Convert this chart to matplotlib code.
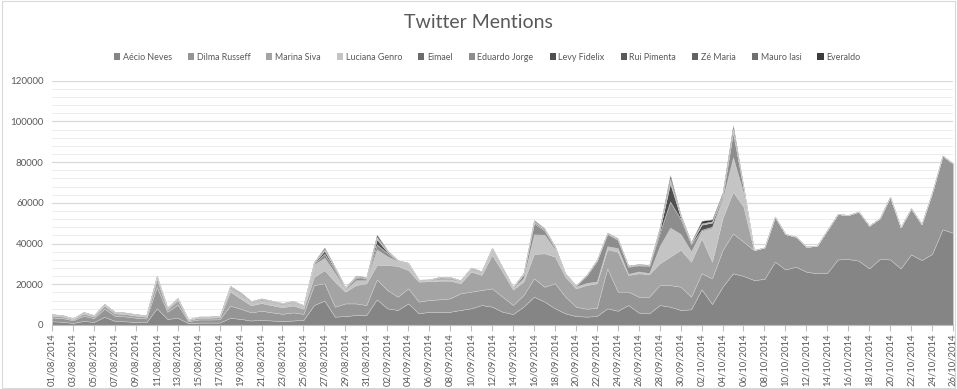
import matplotlib
matplotlib.use("Agg")
import matplotlib.pyplot as plt
import numpy as np
import pandas as pd
from matplotlib.patches import Rectangle

plt.rcParams['font.family'] = ['Lato', 'DejaVu Sans']

dates = pd.date_range("2014-08-01", "2014-10-26", freq="D")
date_labels = [d.strftime("%d/%m/%Y") for d in dates]

series_names = ["Aécio Neves", "Dilma Russeff", "Marina Siva", "Luciana Genro", "Eimael",
                "Eduardo Jorge", "Levy Fidelix", "Rui Pimenta", "Zé Maria", "Mauro Iasi", "Everaldo"]

aecio = [1800, 1600, 1000, 2000, 1500, 4000, 2000, 1800, 1500, 1300,
         8200, 3000, 3500, 900, 1200, 1200, 1200, 3500, 3000, 2200,
         2500, 2200, 2000, 2200, 2500, 9800, 12000, 4100, 4400, 4900,
         4900, 12600, 8200, 7400, 10600, 5700, 6500, 6500, 6500, 7400,
         8200, 9800, 9000, 6500, 5400, 9000, 13900, 11500, 8200, 5700,
         4400, 4100, 4400, 8200, 7000, 9800, 6100, 5700, 9800, 9000,
         7400, 7700, 17500, 10300, 18800, 25400, 24100, 22100, 22600, 31100,
         27300, 28600, 26200, 25400, 25700, 32200, 32400, 31600, 27800, 32400,
         32200, 27800, 34700, 31900, 34900, 47000, 45300]

dilma = [1900, 1800, 1300, 2500, 1900, 4000, 2500, 2400, 2100, 1900,
         10500, 3500, 6500, 1000, 1500, 1500, 1600, 6000, 5000, 4000,
         4500, 4000, 3500, 4000, 3000, 9800, 8500, 4900, 6200, 5700,
         4900, 9800, 9000, 6500, 7400, 5800, 5800, 6100, 6600, 8200,
         8200, 7400, 9000, 7400, 4400, 5700, 9000, 7300, 12300, 8200,
         4600, 3900, 4000, 19600, 9400, 6600, 7800, 8200, 9800, 10600,
         11400, 6200, 7900, 12600, 18000, 19600, 16800, 14700, 15500, 22100,
         17400, 14800, 12300, 13400, 21000, 22300, 21600, 24100, 21000, 20000,
         30800, 20200, 22600, 17700, 30100, 36200, 34100]

marina = [900, 800, 500, 1100, 800, 1500, 1200, 1200, 1000, 900,
          4000, 1300, 2300, 500, 900, 900, 1000, 7000, 5000, 3500,
          3800, 3500, 3200, 3400, 2500, 4100, 6500, 12300, 5800, 9000,
          10700, 7100, 12300, 15100, 9000, 9800, 9200, 9200, 8700, 4900,
          9800, 7400, 16400, 12300, 7600, 6600, 12000, 16400, 13100, 9800,
          9000, 11600, 12100, 9400, 19600, 8200, 11500, 11100, 10700, 14000,
          18200, 17200, 17200, 8200, 15600, 20500, 17200, 0, 0, 0,
          0, 0, 0, 0, 0, 0, 0, 0, 0, 0,
          0, 0, 0, 0, 0, 0, 0]

luciana = [250, 250, 150, 350, 250, 400, 300, 300, 300, 250,
           800, 400, 500, 150, 200, 200, 200, 1500, 1500, 1000,
           1200, 1300, 1200, 1300, 1000, 5800, 5700, 4100, 800, 2200,
           1300, 7300, 4100, 2100, 2900, 400, 400, 600, 600, 800,
           1100, 1000, 2400, 800, 600, 1600, 9300, 9000, 3400, 700,
           800, 900, 800, 1300, 1600, 400, 800, 400, 8200, 13900,
           7500, 4900, 3400, 16400, 9000, 16400, 6600, 0, 0, 0,
           0, 0, 0, 0, 0, 0, 0, 0, 0, 0,
           0, 0, 0, 0, 0, 0, 0]

eimael = [50, 50, 30, 50, 50, 50, 50, 50, 50, 50,
          80, 50, 50, 20, 40, 40, 40, 200, 300, 150,
          150, 150, 150, 150, 150, 200, 300, 200, 100, 200,
          200, 300, 200, 100, 100, 50, 50, 100, 100, 100,
          100, 50, 100, 100, 50, 100, 300, 200, 100, 50,
          50, 100, 100, 200, 200, 100, 100, 100, 200, 300,
          200, 200, 200, 200, 200, 500, 100, 0, 0, 0,
          0, 0, 0, 0, 0, 0, 0, 0, 0, 0,
          0, 0, 0, 0, 0, 0, 0]

eduardo = [150, 150, 100, 150, 150, 150, 150, 150, 150, 150,
           250, 150, 150, 80, 120, 120, 120, 600, 400, 400,
           500, 400, 400, 400, 300, 600, 2000, 1500, 600, 1200,
           800, 2500, 1500, 300, 300, 300, 200, 600, 600, 300,
           500, 400, 600, 600, 400, 1800, 5400, 2000, 1000, 500,
           500, 3500, 10000, 6000, 4000, 3500, 3000, 3400, 6500, 12800,
           7300, 3500, 600, 600, 1400, 12000, 2500, 0, 0, 0,
           0, 0, 0, 0, 0, 0, 0, 0, 0, 0,
           0, 0, 0, 0, 0, 0, 0]

levy = [80, 80, 50, 80, 80, 80, 80, 80, 80, 80,
        100, 80, 80, 40, 70, 70, 70, 200, 400, 200,
        200, 200, 150, 200, 150, 300, 1500, 800, 300, 500,
        300, 2500, 700, 150, 100, 100, 100, 300, 200, 100,
        150, 150, 200, 150, 100, 300, 600, 500, 200, 100,
        100, 200, 200, 300, 300, 300, 300, 300, 1500, 9000,
        1200, 500, 2500, 2000, 800, 1200, 200, 0, 0, 0,
        0, 0, 0, 0, 0, 0, 0, 0, 0, 0,
        0, 0, 0, 0, 0, 0, 0]

rui = [30, 30, 20, 30, 30, 30, 30, 30, 30, 30,
       40, 30, 30, 20, 30, 30, 30, 50, 60, 50,
       50, 50, 50, 50, 50, 100, 300, 150, 50, 100,
       100, 400, 150, 50, 50, 30, 30, 50, 50, 50,
       50, 50, 100, 50, 30, 100, 200, 100, 50, 30,
       30, 50, 100, 100, 100, 50, 50, 50, 200, 800,
       200, 100, 200, 200, 150, 300, 100, 0, 0, 0,
       0, 0, 0, 0, 0, 0, 0, 0, 0, 0,
       0, 0, 0, 0, 0, 0, 0]

ze = [30, 30, 20, 40, 30, 40, 30, 30, 30, 30,
      50, 30, 40, 20, 30, 30, 30, 50, 50, 50,
      60, 50, 50, 50, 50, 100, 280, 150, 60, 100,
      100, 380, 150, 50, 50, 30, 30, 50, 50, 50,
      50, 50, 100, 50, 30, 100, 200, 100, 50, 30,
      30, 50, 100, 100, 100, 50, 50, 50, 200, 750,
      200, 100, 200, 200, 150, 300, 100, 0, 0, 0,
      0, 0, 0, 0, 0, 0, 0, 0, 0, 0,
      0, 0, 0, 0, 0, 0, 0]

mauro = [30, 30, 20, 30, 30, 40, 30, 30, 30, 30,
         50, 30, 30, 20, 30, 30, 30, 50, 50, 50,
         50, 50, 50, 50, 50, 100, 320, 150, 50, 100,
         100, 420, 150, 50, 50, 30, 30, 50, 50, 50,
         50, 50, 100, 50, 30, 100, 200, 100, 50, 30,
         30, 50, 100, 100, 100, 50, 50, 50, 200, 850,
         200, 100, 200, 200, 150, 300, 100, 0, 0, 0,
         0, 0, 0, 0, 0, 0, 0, 0, 0, 0,
         0, 0, 0, 0, 0, 0, 0]

everaldo = [100, 100, 80, 100, 100, 100, 100, 100, 100, 100,
            150, 100, 100, 50, 80, 80, 80, 100, 300, 200,
            100, 100, 100, 100, 50, 100, 700, 250, 150, 300,
            200, 1100, 350, 100, 50, 60, 60, 150, 150, 100,
            100, 100, 100, 300, 100, 200, 500, 300, 300, 100,
            60, 150, 100, 200, 200, 200, 200, 250, 700, 1700,
            500, 300, 1300, 1000, 800, 1700, 100, 0, 0, 0,
            0, 0, 0, 0, 0, 0, 0, 0, 0, 0,
            0, 0, 0, 0, 0, 0, 0]

series = [aecio, dilma, marina, luciana, eimael, eduardo, levy, rui, ze, mauro, everaldo]
colors = ["#858585", "#959595", "#a4a4a4", "#c4c4c4", "#6b6b6b", "#8d8d8d",
          "#505050", "#5a5a5a", "#626262", "#707070", "#3c3c3c"]

fig = plt.figure(figsize=(9.57, 3.89), dpi=100)
ax = fig.add_axes([52/957, 1-325/389, (953-52)/957, (325-80.7)/389])

x = np.arange(len(dates))
ax.stackplot(x, *series, labels=series_names, colors=colors,
             linewidth=0.3, edgecolor="#d0d0d0")

ax.set_xlim(0, len(dates) - 1)
ax.set_ylim(0, 120000)
ax.set_yticks(np.arange(0, 120001, 20000))
ax.set_yticks(np.arange(0, 120001, 4000), minor=True)
ax.yaxis.grid(True, which="major", color="#d9d9d9", linewidth=0.9)
ax.yaxis.grid(True, which="minor", color="#ececec", linewidth=0.7)
ax.set_axisbelow(True)
ax.tick_params(axis="y", which="both", length=0, labelsize=7, labelcolor="#595959", pad=6)

ax.set_xticks(x[::2])
ax.set_xticklabels(date_labels[::2], rotation=90, fontsize=6.8, color="#595959")
ax.set_xticks(x, minor=True)
ax.tick_params(axis="x", which="major", length=4, color="#bfbfbf", pad=2)
ax.tick_params(axis="x", which="minor", length=0)

for s in ["top", "right", "left"]:
    ax.spines[s].set_visible(False)
ax.spines["bottom"].set_color("#bfbfbf")
ax.spines["bottom"].set_linewidth(0.8)

fig.text(0.5, 1 - 22/389, "Twitter Mentions", ha="center", va="center",
         fontsize=14, color="#595959")

handles = [Rectangle((0, 0), 1, 1, facecolor=c) for c in colors]
fig.legend(handles, series_names, loc="center", bbox_to_anchor=(0.509, 1 - 57/389),
           ncol=11, frameon=False, fontsize=6.4, handlelength=0.7, handleheight=0.7,
           handletextpad=0.3, columnspacing=1.8, labelcolor="#595959")

fig.patches.append(Rectangle((0.002, 0.003), 0.996, 0.994, transform=fig.transFigure,
                             fill=False, edgecolor="#d9d9d9", linewidth=0.8))

fig.savefig("out.png", dpi=100)
